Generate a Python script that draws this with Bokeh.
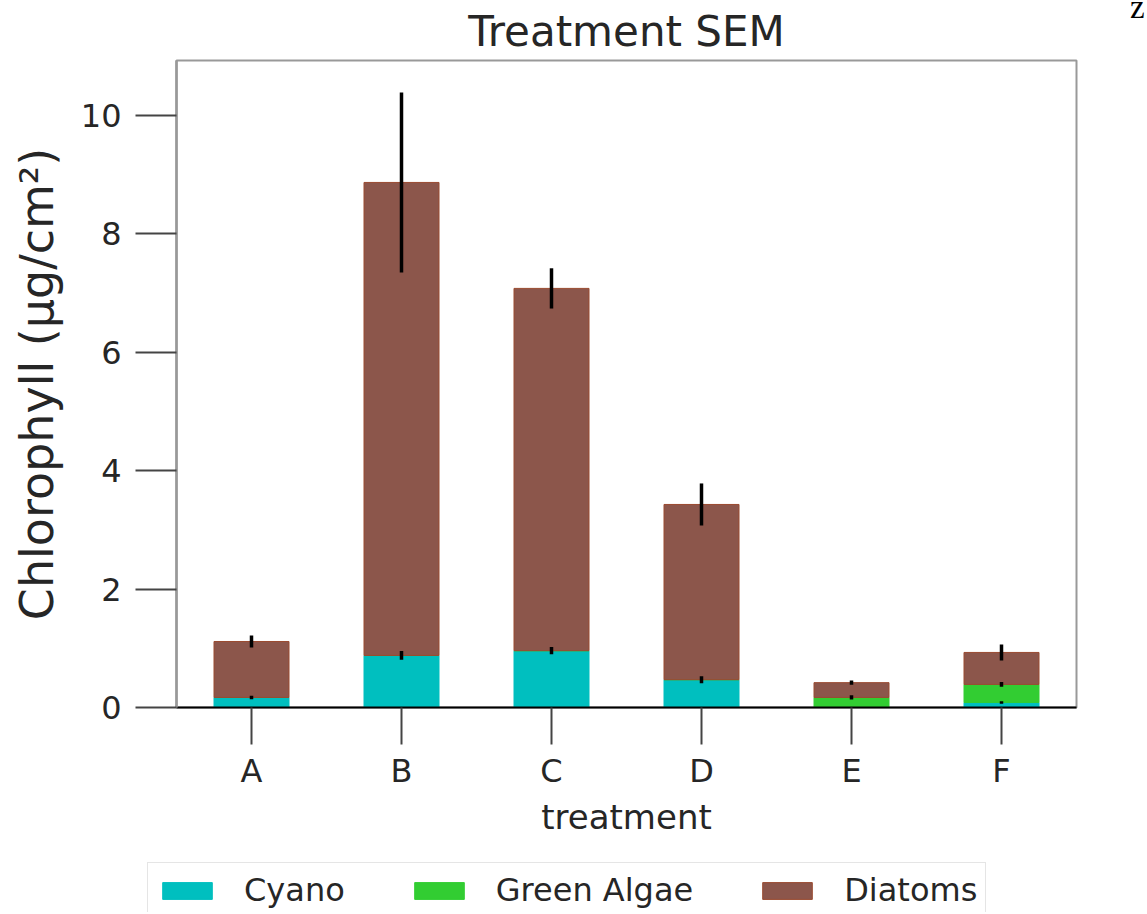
from bokeh.plotting import figure
from bokeh.models import (FactorRange, Range1d, FixedTicker, Legend, LegendItem,
                          ColumnDataSource, Div)
from bokeh.layouts import row, column
from bokeh.embed import file_html
from bokeh.resources import INLINE

treatments = ["A", "B", "C", "D", "E", "F"]
series = ["Cyano", "Green Algae", "Diatoms"]
cyano = [0.17, 0.88, 0.96, 0.47, 0.0, 0.085]
green_algae = [0.0, 0.0, 0.0, 0.0, 0.17, 0.305]
diatoms = [0.945, 7.99, 6.12, 2.96, 0.25, 0.54]
cyano_err = [0.03, 0.075, 0.06, 0.06, 0.0, 0.02]
green_err = [0.0, 0.0, 0.0, 0.0, 0.035, 0.04]
diatoms_err = [0.1, 1.52, 0.34, 0.355, 0.035, 0.135]
colors = ["#00bfbf", "#32cd32", "#8c564b"]
edge_colors = ["#00bfbf", "#32cd32", "#9a4a30"]
y_ticks = [0, 2, 4, 6, 8, 10]

FONT = "DejaVu Sans"

p = figure(x_range=FactorRange(*treatments, range_padding=0),
           y_range=Range1d(0, 10.93),
           width=1128, height=862, output_backend="svg", toolbar_location=None,
           min_border_left=176, min_border_right=52, min_border_top=60,
           min_border_bottom=155, title="Treatment SEM")

src = ColumnDataSource(dict(x=treatments, idx=list(range(len(treatments))),
                            Cyano=cyano, **{"Green Algae": green_algae}, Diatoms=diatoms))
rs = p.vbar_stack(series, x="x", width=0.5, source=src, color=colors,
                  line_color=edge_colors, line_width=1)

# error bars at the cumulative tops
c1 = cyano
c2 = [a + b for a, b in zip(cyano, green_algae)]
c3 = [a + b for a, b in zip(c2, diatoms)]
for tops, errs in ((c1, cyano_err), (c2, green_err), (c3, diatoms_err)):
    xs, lo, hi = [], [], []
    for t, c, e in zip(treatments, tops, errs):
        if e > 0:
            xs.append(t); lo.append(c - e); hi.append(c + e)
    p.segment(x0=xs, x1=xs, y0=lo, y1=hi, line_color="black", line_width=3.5)

# title
p.title.text_font = FONT
p.title.text_font_size = "42px"
p.title.text_font_style = "normal"
p.title.text_color = "#262626"
p.title.align = "center"
p.title.standoff = 9
p.title.offset = 0

p.xgrid.visible = False
p.ygrid.visible = False
p.outline_line_color = "#999999"
p.outline_line_width = 2

xa = p.xaxis[0]
xa.axis_label = "treatment"
xa.axis_label_text_font = FONT
xa.axis_label_text_font_size = "34px"
xa.axis_label_text_font_style = "normal"
xa.axis_label_text_color = "#262626"
xa.axis_label_standoff = 4
xa.major_label_text_font = FONT
xa.major_label_text_font_size = "32px"
xa.major_label_text_color = "#262626"
xa.major_label_standoff = 7
xa.major_tick_out = 37
xa.major_tick_in = 0
xa.major_tick_line_color = "#444444"
xa.major_tick_line_width = 2
xa.axis_line_color = "black"
xa.axis_line_width = 2

ya = p.yaxis[0]
ya.ticker = FixedTicker(ticks=y_ticks)
ya.axis_label = "Chlorophyll (μg/cm²)"
ya.axis_label_text_font = FONT
ya.axis_label_text_font_size = "46px"
ya.axis_label_text_font_style = "normal"
ya.axis_label_text_color = "#262626"
ya.axis_label_standoff = 14
ya.major_label_text_font = FONT
ya.major_label_text_font_size = "32px"
ya.major_label_text_color = "#262626"
ya.major_label_standoff = 14
ya.major_tick_out = 41
ya.major_tick_in = 0
ya.minor_tick_out = 0
ya.minor_tick_in = 0
ya.major_tick_line_color = "#444444"
ya.major_tick_line_width = 2
ya.axis_line_color = "#999999"
ya.axis_line_width = 2.5

# legend strip below the chart; its bars use the same data but lie outside its view
pl = figure(x_range=Range1d(-101, -100), y_range=Range1d(-101, -100),
            width=1145, height=50, output_backend="svg", toolbar_location=None,
            x_axis_location=None, y_axis_location=None,
            min_border_left=147, min_border_right=0, min_border_top=0, min_border_bottom=0)
pl.outline_line_color = None
pl.xgrid.visible = False
pl.ygrid.visible = False
lrs = pl.vbar_stack(series, x="idx", width=0.5, source=src, color=colors,
                    line_color=edge_colors, line_width=1)
legend = Legend(items=[LegendItem(label=s, renderers=[r]) for s, r in zip(series, lrs)],
                orientation="horizontal", location="top_left")
legend.label_text_font = FONT
legend.label_text_font_size = "32px"
legend.label_text_color = "#262626"
legend.glyph_width = 62
legend.glyph_height = 21
legend.label_standoff = 26
legend.spacing = 63
legend.padding = 8
legend.margin = 0
legend.border_line_color = "#cccccc"
legend.border_line_width = 1.5
legend.background_fill_alpha = 1.0
pl.add_layout(legend, "center")

z = Div(text="z", width=17, height=40,
        styles={"font-family": "Liberation Serif", "font-size": "33px",
                "line-height": "1", "color": "black", "position": "relative",
                "top": "-14px", "left": "-3px"})

open("out.html", "w").write(file_html(column(row(p, z), pl), INLINE))
